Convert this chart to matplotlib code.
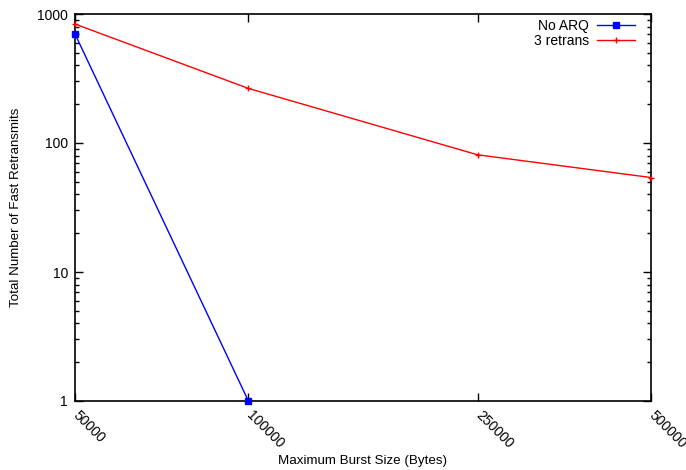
import matplotlib
matplotlib.use("Agg")
import matplotlib.pyplot as plt
from matplotlib.ticker import FixedLocator, LogLocator, NullFormatter, NullLocator
from matplotlib.transforms import ScaledTranslation

plt.rcParams['font.family'] = ['Liberation Sans', 'DejaVu Sans']

# data
burst = [50000, 100000, 250000, 500000]
burst_labels = ['50000', '100000', '250000', '500000']
no_arq_x = [50000, 100000]
no_arq = [700, 1]
retrans3 = [836, 265, 81, 54]


def main():
    fig = plt.figure(figsize=(6.86, 4.70), dpi=100)
    ax = fig.add_axes([75 / 686, 1 - 401 / 470, 576 / 686, 387 / 470])

    ax.plot(no_arq_x, no_arq, color='#0000ff', lw=1, marker='s', ms=4.5,
            clip_on=False, zorder=3, label='No ARQ')
    ax.plot(burst, retrans3, color='#ff0000', lw=1, marker='+', ms=5,
            mew=1, clip_on=False, zorder=3, label='3 retrans')

    # axes:
    ax.set_xscale('log')
    ax.set_yscale('log')
    ax.set_xlim(50000, 500000)
    ax.set_ylim(1, 1000)
    ax.xaxis.set_major_locator(FixedLocator(burst))
    ax.xaxis.set_minor_locator(NullLocator())
    ax.set_xticklabels(burst_labels, rotation=-45, ha='left', va='center',
                       rotation_mode='anchor')
    shift = ScaledTranslation(2 / 100, 0, fig.dpi_scale_trans)
    for lab in ax.get_xticklabels():
        lab.set_transform(lab.get_transform() + shift)
    ax.set_yticks([1, 10, 100, 1000])
    ax.set_yticklabels(['1', '10', '100', '1000'])
    ax.yaxis.set_minor_locator(LogLocator(base=10, subs=range(2, 10)))
    ax.yaxis.set_minor_formatter(NullFormatter())
    ax.tick_params(which='both', direction='in', top=True, right=True,
                   labelsize=10, width=1, colors='k')
    ax.tick_params(which='major', length=6, pad=5)
    ax.tick_params(which='minor', length=3)
    ax.tick_params(axis='x', pad=8.6)
    for s in ax.spines.values():
        s.set_linewidth(1.2)

    # labels:
    ax.set_xlabel('Maximum Burst Size (Bytes)', fontsize=9.6)
    ax.xaxis.set_label_coords((363 - 75) / 576, (401 - 455) / 387)
    ax.set_ylabel('Total Number of Fast Retransmits', fontsize=9.6, va='center')
    ax.yaxis.set_label_coords((16 - 75) / 576, 0.5)
    ax.legend(loc='upper right', bbox_to_anchor=(0.972, 0.987),
              frameon=False, markerfirst=False, fontsize=10,
              handlelength=2.7, labelspacing=0.05, borderaxespad=0,
              borderpad=0, handletextpad=0.6)

    # saving:
    fig.savefig('out.png', dpi=100)


if __name__ == "__main__":
    main()
